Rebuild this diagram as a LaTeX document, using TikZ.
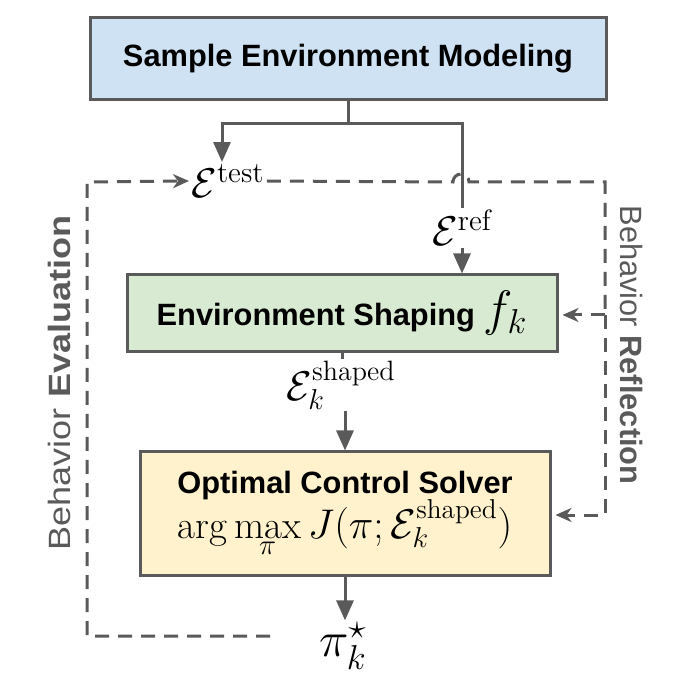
\documentclass[tikz,border=0pt]{standalone}
\usepackage{fontspec}
\newfontfamily\arial{Liberation Sans}
\usetikzlibrary{arrows.meta,positioning}

\definecolor{linegray}{HTML}{5A5A5A}
\definecolor{boxblue}{HTML}{CFE2F3}
\definecolor{boxgreen}{HTML}{D9EAD3}
\definecolor{boxyellow}{HTML}{FFF2CC}

\tikzset{
  block/.style={draw=linegray, line width=1.5pt, align=center, inner sep=0pt,
    font=\arial\bfseries\fontsize{15.4pt}{18pt}\selectfont},
  flow/.style={draw=linegray, line width=1.5pt},
  flowarrow/.style={flow, -{Triangle[length=10pt,width=8.5pt]}},
  feedback/.style={draw=linegray, line width=1.5pt, dash pattern=on 7pt off 4.5pt},
  feedbackarrow/.style={feedback, -{Stealth[length=8pt,width=7pt,inset=2.5pt]}},
  envlabel/.style={inner sep=1pt, font=\fontsize{21pt}{25pt}\selectfont},
  sidelabel/.style={text=linegray, inner sep=0pt, font=\arial\fontsize{15.4pt}{18pt}\selectfont},
}

\begin{document}
\begin{tikzpicture}[x=0.5pt, y=-0.5pt]
  \useasboundingbox (0,0) rectangle (686,684);

  % blocks
  \node[block, fill=boxblue, minimum width=258pt, minimum height=41pt] (sample) at (348,59) {Sample Environment Modeling};
  \node[block, fill=boxgreen, minimum width=215pt, minimum height=38.5pt] (shaping) at (342,313.5)
    {Environment Shaping {\fontsize{23pt}{26pt}\selectfont$f_k$}};
  \node[block, fill=boxyellow, minimum width=205pt, minimum height=61.5pt] (solver) at (345,513.5)
    {Optimal Control Solver\\[-1pt]
     {\mdseries\fontsize{19.5pt}{23pt}\selectfont$\displaystyle\arg\max_{\pi} J(\pi;\mathcal{E}_k^{\mathrm{shaped}})$}};

  % environment labels
  \node[envlabel] (etest) at (228,181) {$\mathcal{E}^{\mathrm{test}}$};
  \node[envlabel] (eref) at (462,228) {$\mathcal{E}^{\mathrm{ref}}$};
  \node[envlabel, font=\fontsize{20pt}{24pt}\selectfont] (eshaped) at (341,385) {$\mathcal{E}_k^{\mathrm{shaped}}$};
  \node[envlabel, font=\fontsize{26pt}{30pt}\selectfont] (pistar) at (343,646) {$\pi_k^{\star}$};

  % side labels
  \node[sidelabel, rotate=90] (evaluation) at (59,383) {\scalebox{1.17}[1]{Behavior \textbf{Evaluation}}};
  \node[sidelabel, rotate=-90] (reflection) at (632,345) {Behavior \textbf{Reflection}};

  % corners
  \coordinate (split) at ([yshift=-11pt]sample.south);
  \coordinate (hop) at (461,182);
  \coordinate (rtop) at (605,182);
  \coordinate (rmid) at (605,315);
  \coordinate (rbot) at (605,515);
  \coordinate (ltop) at (87,182);
  \coordinate (lbot) at (87,636);
  \coordinate (evalstart) at (270,636);

  % solid flow
  \draw[flow] (sample.south) -- (split);
  \draw[flowarrow] (split) -| ([xshift=-3pt]etest.north);
  \draw[flow] (split) -| (eref.north);
  \draw[flowarrow] (eref.south) -- (eref.south |- shaping.north);
  \draw[flow] (shaping.south) -- (shaping.south |- eshaped.north);
  \draw[flowarrow] (eshaped.south -| solver.north) -- (solver.north);
  \draw[flowarrow] (solver.south) -- (solver.south |- pistar.north);

  % behavior evaluation
  \draw[feedbackarrow] (evalstart) -- (lbot) -- (ltop) -- (etest.west);

  % behavior reflection
  \draw[feedback] (etest.east) -- ([xshift=-4pt]hop) arc[start angle=180, end angle=0, radius=4pt] -- (rtop) -- (rmid);
  \draw[feedbackarrow] (rmid) -- (rbot) -- ([xshift=2pt]rbot -| solver.east);
  \draw[feedbackarrow] (rmid) -- ([xshift=2pt]rmid -| shaping.east);
\end{tikzpicture}
\end{document}
